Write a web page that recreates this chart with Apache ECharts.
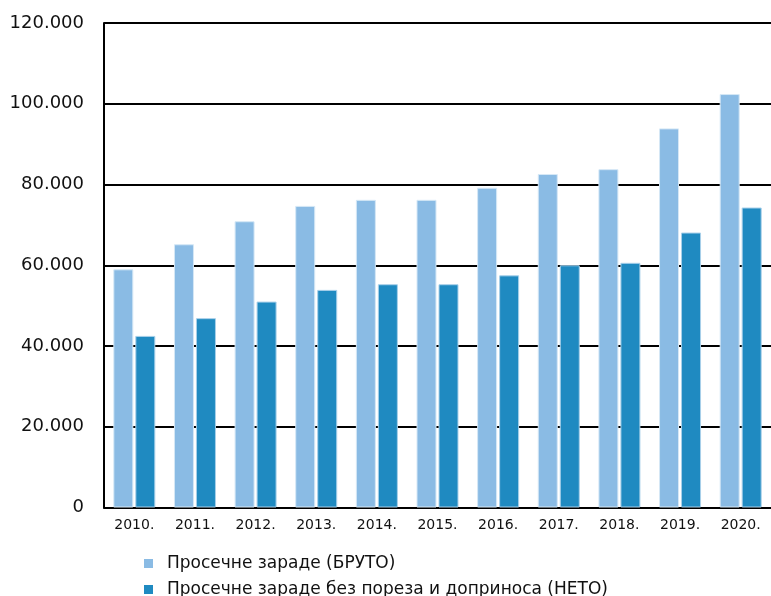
<!DOCTYPE html>
<html><head><meta charset="utf-8">
<script src="https://cdn.jsdelivr.net/npm/echarts@6/dist/echarts.min.js"></script>
<style>html,body{margin:0;padding:0;background:#fff}#c{width:771px;height:596px}</style>
</head><body><div id="c"></div>
<script>
const categories = ['2010.','2011.','2012.','2013.','2014.','2015.','2016.','2017.','2018.','2019.','2020.'];
const grossName = 'Просечне зараде (БРУТО)';
const netName = 'Просечне зараде без пореза и доприноса (НЕТО)';
const gross = [59000, 65200, 70900, 74700, 76200, 76200, 79200, 82600, 83800, 93900, 102400];
const net = [42500, 46900, 51000, 53900, 55300, 55300, 57500, 60000, 60600, 68100, 74300];
const yTicks = {min: 0, max: 120000, interval: 20000};

const chart = echarts.init(document.getElementById('c'));
const FONT = 'DejaVu Sans';
const legendBase = {
  left: 139, itemWidth: 9, itemHeight: 9, icon: 'rect',
  itemStyle: {borderWidth: 0},
  textStyle: {fontFamily: FONT, fontSize: 17, color: '#111', padding: [0,0,0,9]}
};
chart.setOption({
  animation: false,
  textStyle: {fontFamily: FONT},
  grid: {left: 104, top: 23, width: 677, height: 484.5, containLabel: false},
  legend: [
    Object.assign({}, legendBase, {top: 550, data: [grossName]}),
    Object.assign({}, legendBase, {top: 576, data: [netName]})
  ],
  xAxis: {
    type: 'category', data: categories,
    axisLine: {lineStyle: {color: '#000', width: 2}},
    axisTick: {show: false},
    axisLabel: {fontFamily: FONT, fontSize: 14, color: '#111', margin: 11}
  },
  yAxis: {
    type: 'value', min: yTicks.min, max: yTicks.max, interval: yTicks.interval,
    axisLine: {show: true, lineStyle: {color: '#000', width: 2}},
    axisTick: {show: false},
    splitLine: {lineStyle: {color: '#000', width: 2}},
    axisLabel: {fontFamily: FONT, fontSize: 18, color: '#111', margin: 20,
      formatter: v => v === 0 ? '0' : String(v).replace(/\B(?=(\d{3})+(?!\d))/g, '.')}
  },
  series: [
    {name: grossName, type: 'bar', data: gross, barWidth: 20, barGap: '10%',
      itemStyle: {color: '#8abbe4', borderColor: '#d6e8f6', borderWidth: 1}},
    {name: netName, type: 'bar', data: net, barWidth: 20,
      itemStyle: {color: '#1f8ac1', borderColor: '#a9d0ea', borderWidth: 1}}
  ]
});
</script></body></html>
